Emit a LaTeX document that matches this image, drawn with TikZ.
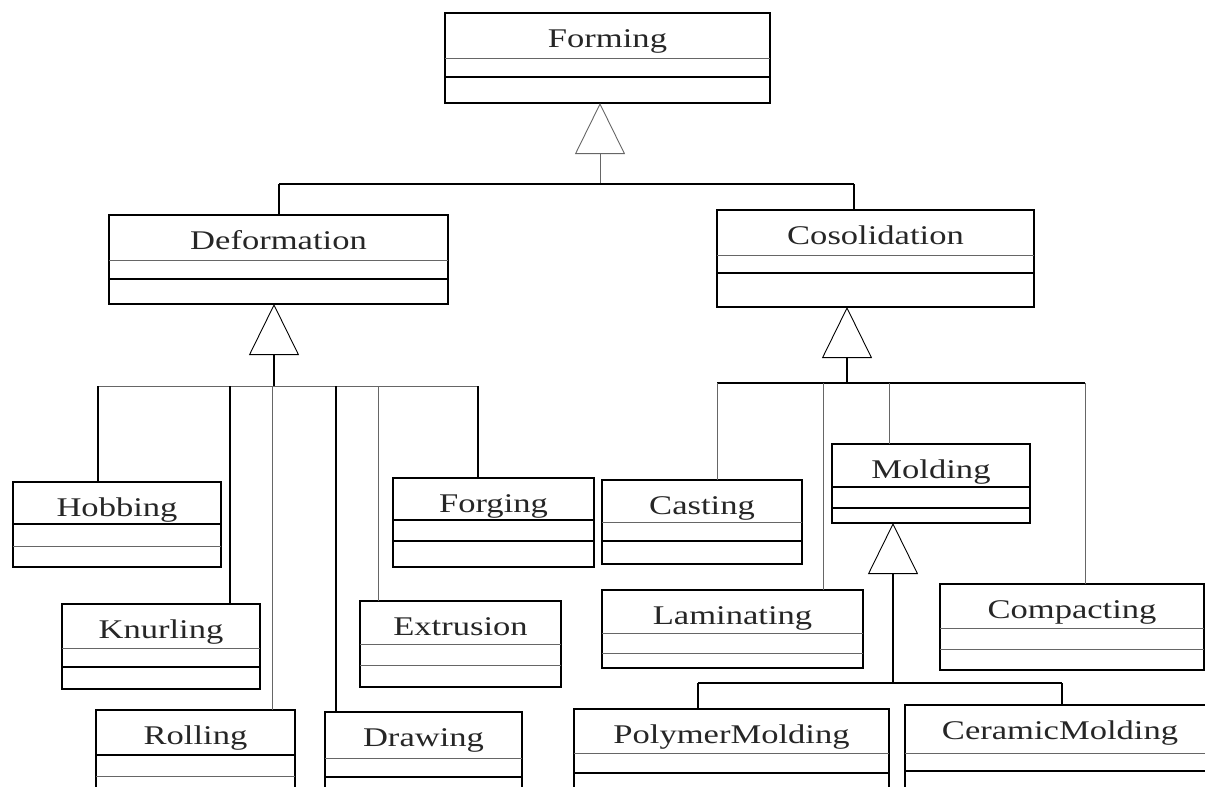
\documentclass[tikz,border=0pt]{standalone}
\usepackage{fontspec}
\newfontfamily\umlserif[FakeStretch=1.28]{Liberation Serif}
\usetikzlibrary{arrows.meta,fit}
\newcommand\umlfont{\umlserif\fontsize{27pt}{30pt}\selectfont}
\begin{document}
\begin{tikzpicture}[x=1pt,y=-1pt,
  box/.style={draw=black, line width=1.3pt, inner sep=0pt, outer sep=0pt},
  tk/.style={line width=1.3pt, draw=black},
  tn/.style={line width=0.9pt, draw=black!60},
  title/.style={font=\umlfont, text=black!85, anchor=base, inner sep=0pt},
  gen/.style={-{Triangle[open, length=51pt, width=50pt, line width=0.9pt]}}]
\useasboundingbox (0,0) rectangle (1205,787);
\clip (0,0) rectangle (1205,787);

% ---------- boxes ----------
\node[box, fit={(445,13) (770,103)}] (form) {};
\node[title] (formT) at ([yshift=-34pt]form.north) {Forming};
\draw[tn] (445,58) -- (770,58); \draw[tk] (445,77) -- (770,77);

\node[box, fit={(109,215) (448,304)}] (def) {};
\node[title] (defT) at ([yshift=-34pt]def.north) {Deformation};
\draw[tn] (109,260) -- (448,260); \draw[tk] (109,279) -- (448,279);

\node[box, fit={(717,210) (1034,307)}] (cos) {};
\node[title] (cosT) at ([yshift=-34pt]cos.north) {Cosolidation};
\draw[tn] (717,255) -- (1034,255); \draw[tk] (717,273) -- (1034,273);

\node[box, fit={(13,482) (221,567)}] (hob) {};
\node[title] (hobT) at ([yshift=-34pt]hob.north) {Hobbing};
\draw[tk] (13,524) -- (221,524); \draw[tn] (13,546) -- (221,546);

\node[box, fit={(62,604) (260,689)}] (knu) {};
\node[title] (knuT) at ([yshift=-34pt]knu.north) {Knurling};
\draw[tn] (62,648) -- (260,648); \draw[tk] (62,667) -- (260,667);

\node[box, fit={(96,710) (295,800)}] (rol) {};
\node[title] (rolT) at ([yshift=-34pt]rol.north) {Rolling};
\draw[tk] (96,755) -- (295,755); \draw[tn] (96,776) -- (295,776);

\node[box, fit={(325,712) (522,800)}] (dra) {};
\node[title] (draT) at ([yshift=-34pt]dra.north) {Drawing};
\draw[tn] (325,758) -- (522,758); \draw[tk] (325,777) -- (522,777);

\node[box, fit={(360,601) (561,687)}] (ext) {};
\node[title] (extT) at ([yshift=-34pt]ext.north) {Extrusion};
\draw[tn] (360,644) -- (561,644); \draw[tn] (360,665) -- (561,665);

\node[box, fit={(393,478) (594,567)}] (forg) {};
\node[title] (forgT) at ([yshift=-34pt]forg.north) {Forging};
\draw[tk] (393,520) -- (594,520); \draw[tk] (393,541) -- (594,541);

\node[box, fit={(602,480) (802,564)}] (cas) {};
\node[title] (casT) at ([yshift=-34pt]cas.north) {Casting};
\draw[tn] (602,522) -- (802,522); \draw[tk] (602,541) -- (802,541);

\node[box, fit={(832,444) (1030,523)}] (mol) {};
\node[title] (molT) at ([yshift=-34pt]mol.north) {Molding};
\draw[tk] (832,487) -- (1030,487); \draw[tk] (832,508) -- (1030,508);

\node[box, fit={(602,590) (863,668)}] (lam) {};
\node[title] (lamT) at ([yshift=-34pt]lam.north) {Laminating};
\draw[tn] (602,633) -- (863,633); \draw[tn] (602,653) -- (863,653);

\node[box, fit={(940,584) (1204,670)}] (com) {};
\node[title] (comT) at ([yshift=-34pt]com.north) {Compacting};
\draw[tn] (940,628) -- (1204,628); \draw[tn] (940,649) -- (1204,649);

\node[box, fit={(574,709) (889,800)}] (pol) {};
\node[title] (polT) at ([yshift=-34pt]pol.north) {PolymerMolding};
\draw[tn] (574,753) -- (889,753); \draw[tk] (574,773) -- (889,773);

\node[box, fit={(905,705) (1215,800)}] (cer) {};
\node[title] (cerT) at ([yshift=-34pt]cer.north) {CeramicMolding};
\draw[tn] (905,753) -- (1215,753); \draw[tk] (905,771) -- (1215,771);

% ---------- generalisation: Forming ----------
\coordinate (fhub) at (600,184);
\coordinate (fL) at (279,184);
\coordinate (fR) at (854,184);
\draw[tn,gen] (fhub) -- (fhub |- form.south);
\draw[tk] (fL) -- (fR);
\draw[tk] (fL) -- (fL |- def.north);
\draw[tk] (fR) -- (fR |- cos.north);

% ---------- generalisation: Deformation ----------
\coordinate (dhub) at (274,386);
\coordinate (dhob) at (98,386);
\coordinate (dknu) at (230,386);
\coordinate (drol) at (272,386);
\coordinate (ddra) at (336,386);
\coordinate (dext) at (378,386);
\coordinate (dfor) at (478,386);
\draw[tk,gen] (dhub) -- (dhub |- def.south);
\draw[tn] (dhob) -- (dfor);
\draw[tk] (dhob) -- (dhob |- hob.north);
\draw[tk] (dknu) -- (dknu |- knu.north);
\draw[tn] (drol) -- (drol |- rol.north);
\draw[tk] (ddra) -- (ddra |- dra.north);
\draw[tn] (dext) -- (dext |- ext.north);
\draw[tk] (dfor) -- (dfor |- forg.north);

% ---------- generalisation: Cosolidation ----------
\coordinate (chub) at (847,383);
\coordinate (ccas) at (717,383);
\coordinate (clam) at (823,383);
\coordinate (cmol) at (889,383);
\coordinate (ccom) at (1085,383);
\draw[tk,gen] (chub) -- (chub |- cos.south);
\draw[tk] (ccas) -- (ccom);
\draw[tn] (ccas) -- (ccas |- cas.north);
\draw[tn] (clam) -- (clam |- lam.north);
\draw[tn] (cmol) -- (cmol |- mol.north);
\draw[tn] (ccom) -- (ccom |- com.north);

% ---------- generalisation: Molding ----------
\coordinate (mhub) at (893,683);
\coordinate (mpol) at (698,683);
\coordinate (mcer) at (1062,683);
\draw[tk,gen] (mhub) -- (mhub |- mol.south);
\draw[tk] (mpol) -- (mcer);
\draw[tk] (mpol) -- (mpol |- pol.north);
\draw[tk] (mcer) -- (mcer |- cer.north);
\end{tikzpicture}
\end{document}
